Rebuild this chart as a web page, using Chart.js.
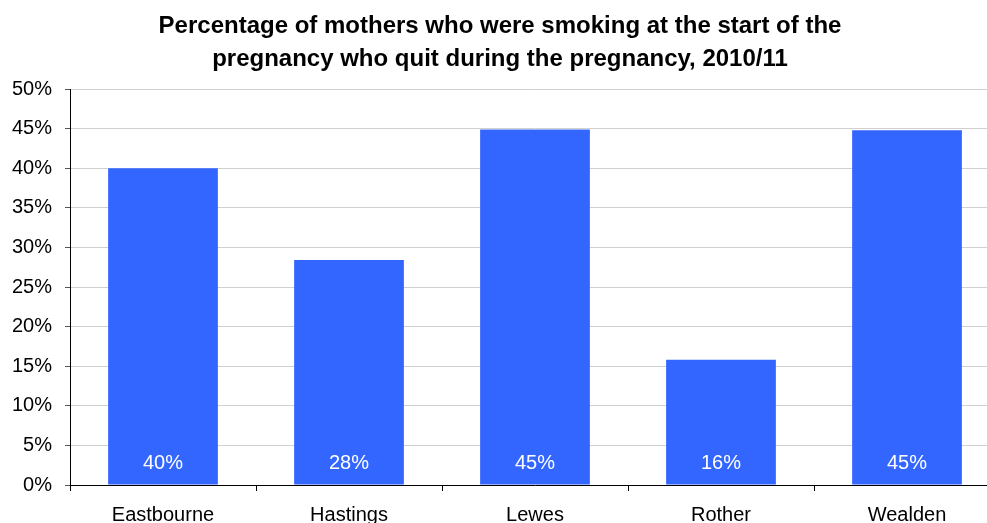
<!DOCTYPE html>
<html>
<head>
<meta charset="utf-8">
<script src="https://cdn.jsdelivr.net/npm/chart.js@4"></script>
<style>
  html, body { margin: 0; padding: 0; background: #fff; overflow: hidden; }
  #wrap { width: 1000px; height: 523px; }
</style>
</head>
<body>
<div id="wrap"><canvas id="chart" width="1000" height="523"></canvas></div>
<script>
// datos del gráfico
const categorias = ['Eastbourne', 'Hastings', 'Lewes', 'Rother', 'Wealden'];
const valores = [40.0, 28.4, 44.9, 15.8, 44.8];
const etiquetas = ['40%', '28%', '45%', '16%', '45%'];
const titulo = ['Percentage of mothers who were smoking at the start of the', 'pregnancy who quit during the pregnancy, 2010/11'];

const FUENTE = '"Liberation Sans", Arial, sans-serif';

// etiquetas blancas dentro de las barras
const etiquetasBarras = {
  id: 'etiquetasBarras',
  afterDatasetsDraw(chart) {
    const ctx = chart.ctx;
    const meta = chart.getDatasetMeta(0);
    const base = chart.scales.y.bottom;
    ctx.save();
    ctx.fillStyle = '#ffffff';
    ctx.font = '20px ' + FUENTE;
    ctx.textAlign = 'center';
    ctx.textBaseline = 'middle';
    meta.data.forEach((bar, i) => {
      ctx.fillText(etiquetas[i], bar.x, base - 22);
    });
    ctx.restore();
  }
};

new Chart(document.getElementById('chart').getContext('2d'), {
  type: 'bar',
  data: {
    labels: categorias,
    datasets: [{ data: valores, backgroundColor: '#3366FF', barPercentage: 0.59, categoryPercentage: 1 }]
  },
  options: {
    responsive: false,
    animation: false,
    layout: { padding: 0 },
    plugins: {
      legend: { display: false },
      tooltip: { enabled: false },
      title: {
        display: true,
        text: titulo,
        color: '#000',
        font: { family: FUENTE, size: 24, weight: 'bold', lineHeight: 33 / 24 },
        padding: { top: 10, bottom: 13 }
      }
    },
    scales: {
      x: {
        afterFit: s => { s.height = 38; },
        grid: { drawOnChartArea: false, drawTicks: true, tickLength: 6, tickColor: '#000', offset: true },
        border: { color: '#000', width: 1 },
        ticks: { color: '#000', font: { family: FUENTE, size: 20 }, padding: 12, maxRotation: 0 }
      },
      y: {
        min: 0, max: 50,
        afterFit: s => { s.width = 70; },
        grid: { color: '#d0d0d0', tickLength: 5, tickColor: '#555' },
        border: { color: '#000', width: 1 },
        ticks: { stepSize: 5, color: '#000', font: { family: FUENTE, size: 20 }, padding: 13, callback: v => v + '%' }
      }
    }
  },
  plugins: [etiquetasBarras]
});
</script>
</body>
</html>
